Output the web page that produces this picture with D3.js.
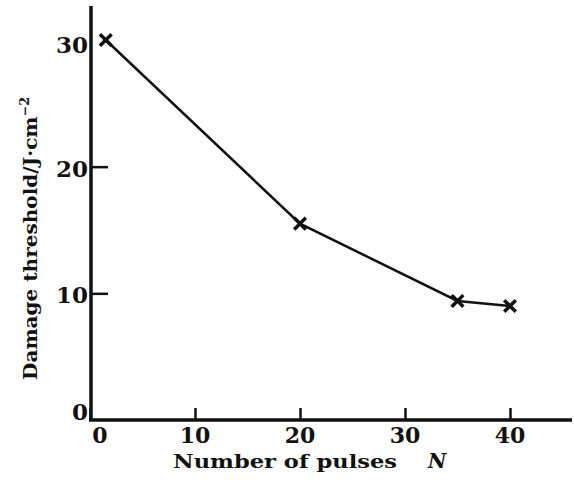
<!DOCTYPE html>
<html>
<head>
<meta charset="utf-8">
<script src="https://cdn.jsdelivr.net/npm/d3@7"></script>
<style>
  body { margin: 0; background: #fff; }
  svg text { font-family: "DejaVu Serif", "Liberation Serif", serif; font-weight: bold; fill: #111; }
</style>
</head>
<body>
<svg id="chart" width="574" height="480"></svg>
<script>
// data
var pulses = [1.5, 20, 35, 40];
var threshold = [30, 15.5, 9.4, 9.0];
var xTicks = [0, 10, 20, 30, 40];
var yTicks = [0, 10, 20, 30];

var svg = d3.select("#chart");
var x = d3.scaleLinear().domain([0, 40]).range([90, 510]);
var y = d3.scaleLinear().domain([0, 30]).range([420, 40]);

// axes: ticks point inward, no domain path from d3 (drawn below)
var xAxis = svg.append("g").attr("transform", "translate(0,420)")
  .call(d3.axisTop(x).tickValues(xTicks).tickSize(12).tickFormat(""));
xAxis.select(".domain").remove();
xAxis.selectAll("line").attr("stroke", "#111").attr("stroke-width", 2.5);

var yAxis = svg.append("g").attr("transform", "translate(91,0)")
  .call(d3.axisRight(y).tickValues(yTicks.slice(1, 3)).tickSize(17).tickFormat(""));
yAxis.select(".domain").remove();
yAxis.selectAll("line").attr("stroke", "#111").attr("stroke-width", 2.5);

svg.append("line").attr("x1", 89).attr("x2", 572).attr("y1", 420).attr("y2", 420)
  .attr("stroke", "#111").attr("stroke-width", 3.5);
svg.append("line").attr("x1", 91).attr("x2", 91).attr("y1", 6).attr("y2", 421)
  .attr("stroke", "#111").attr("stroke-width", 3.5);

// tick labels
svg.append("g").selectAll("text").data(xTicks).join("text")
  .attr("x", function(d) { return x(d) + (d === 0 ? 10 : 0); })
  .attr("y", 443)
  .attr("text-anchor", "middle")
  .style("font-size", "22px")
  .text(function(d) { return d; });

svg.append("g").selectAll("text").data(yTicks).join("text")
  .attr("x", 88)
  .attr("y", function(d) { return y(d) + (d === 0 ? 0 : d === 30 ? 13 : 10); })
  .attr("text-anchor", "end")
  .style("font-size", "23px")
  .text(function(d) { return d; });

// axis titles
svg.append("text").attr("x", 173).attr("y", 468)
  .attr("textLength", 224).attr("lengthAdjust", "spacingAndGlyphs")
  .style("font-size", "18px").text("Number of pulses");
svg.append("text").attr("x", 428).attr("y", 468)
  .style("font-size", "20px").style("font-style", "italic").text("N");

var yt = svg.append("text")
  .attr("transform", "translate(37,380) rotate(-90)")
  .attr("textLength", 283).attr("lengthAdjust", "spacingAndGlyphs")
  .style("font-size", "19px");
yt.append("tspan").text("Damage threshold/J\u00b7cm");
yt.append("tspan").attr("dy", -8).style("font-size", "12px").text("\u2212\u0032");

// data line and markers
var pts = pulses.map(function(d, i) { return [d, threshold[i]]; });
svg.append("path").datum(pts)
  .attr("fill", "none").attr("stroke", "#111").attr("stroke-width", 2.5)
  .attr("d", d3.line().x(function(d) { return x(d[0]); }).y(function(d) { return y(d[1]); }));

svg.append("g").selectAll("path").data(pts).join("path")
  .attr("transform", function(d) { return "translate(" + x(d[0]) + "," + y(d[1]) + ")"; })
  .attr("d", d3.symbol(d3.symbolX, 90))
  .attr("fill", "none").attr("stroke", "#111").attr("stroke-width", 3.5);
</script>
</body>
</html>
